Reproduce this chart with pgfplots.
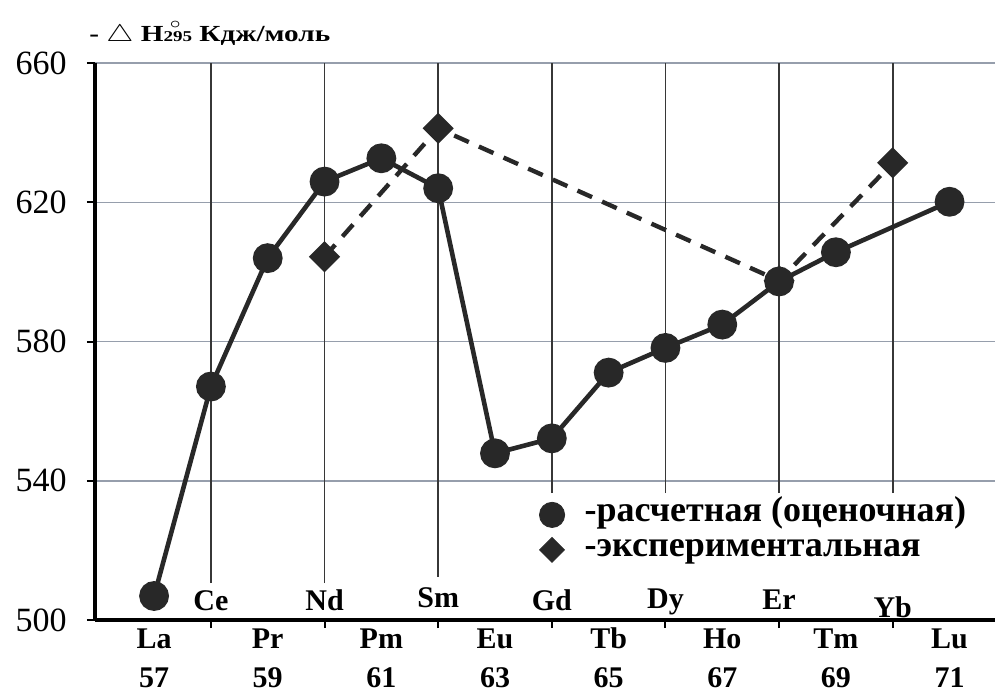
\documentclass[border=0pt]{standalone}
\usepackage{fontspec}
\setmainfont{Liberation Serif}
\usepackage{graphicx}
\usepackage{pgfplots}
\pgfplotsset{compat=1.18}
\definecolor{dk}{RGB}{40,40,40}
\definecolor{gridc}{RGB}{150,158,172}
\definecolor{vline}{RGB}{55,55,55}
\newcommand{\st}{\rule{0pt}{11pt}}
\begin{document}
\begin{tikzpicture}
\begin{axis}[
  name=ax,
  scale only axis,
  width=450pt, height=278.35pt,
  xmin=55.96, xmax=71.8,
  ymin=500, ymax=660,
  clip=false,
  axis x line=bottom, axis y line=left,
  axis line style={-, line width=1.6pt, black},
  tick align=outside,
  major tick length=4pt,
  tick style={line width=1pt, black},
  ytick={500,540,580,620,660},
  ymajorgrids,
  major grid style={color=gridc, line width=0.8pt},
  /pgf/number format/assume math mode=true,
  yticklabel style={font=\fontsize{17}{17}\selectfont, inner sep=0pt, xshift=-10pt},
  xtick={58,60,62,64,66,68,70},
  xticklabels={},
  extra x ticks={57,59,61,63,65,67,69,71},
  extra x tick labels={{\st La\\57},{\st Pr\\59},{\st Pm\\61},{\st Eu\\63},{\st Tb\\65},{\st Ho\\67},{\st Tm\\69},{\st Lu\\71}},
  extra x tick style={major tick length=0pt, grid=none,
     xticklabel style={font=\bfseries\fontsize{15}{19.5}\selectfont, align=center, inner sep=0pt, yshift=-3pt}},
  legend style={draw=none, fill=none, font=\bfseries\fontsize{18}{18}\selectfont,
     at={(axis cs:63.67,536.5)}, anchor=north west, column sep=9pt,
     nodes={inner sep=1pt, text height=11pt, text depth=4.5pt}},
  legend cell align=left,
]
% vertical grid lines
\draw[vline, line width=0.9pt] (axis cs:58,510.6) -- (axis cs:58,660);
\draw[vline, line width=0.9pt] (axis cs:60,510.6) -- (axis cs:60,660);
\draw[vline, line width=0.9pt] (axis cs:62,512.4) -- (axis cs:62,660);
\draw[vline, line width=0.9pt] (axis cs:64,536.5) -- (axis cs:64,660);
\draw[vline, line width=0.9pt] (axis cs:66,536.5) -- (axis cs:66,660);
\draw[vline, line width=0.9pt] (axis cs:68,536.5) -- (axis cs:68,660);
\draw[vline, line width=0.9pt] (axis cs:70,536.5) -- (axis cs:70,660);

% experimental (dashed, diamonds)
\addplot[forget plot, color=dk, line width=2.2pt, dash pattern=on 8pt off 5.5pt,
  mark=square*, mark size=4.4pt, mark options={rotate=45, solid, fill=dk}]
  coordinates {(60,604.4) (62,641.3) (68,597.5) (70,631.4)};
% calculated (solid, circles)
\addplot[forget plot, color=dk, line width=2.3pt,
  mark=*, mark size=6.3pt, mark options={fill=dk}]
  coordinates {(57,506.9) (58,567.1) (59,604.0) (60,626.0) (61,632.7) (62,624.1)
               (63,547.9) (64,552.2) (65,571.1) (66,578.2) (67,584.9) (68,597.3)
               (69,605.7) (71,620.2)};

\addlegendimage{only marks, mark=*, mark size=6.3pt, color=dk, fill=dk}
\addlegendentry{-расчетная (оценочная)}
\addlegendimage{only marks, mark=square*, mark options={rotate=45}, mark size=4.4pt, color=dk, fill=dk}
\addlegendentry{-экспериментальная}

% element labels above axis
\node[font=\bfseries\fontsize{15}{15}\selectfont, anchor=base] at (axis cs:58,502.6) {Ce};
\node[font=\bfseries\fontsize{15}{15}\selectfont, anchor=base] at (axis cs:60,502.6) {Nd};
\node[font=\bfseries\fontsize{15}{15}\selectfont, anchor=base] at (axis cs:62,503.7) {Sm};
\node[font=\bfseries\fontsize{15}{15}\selectfont, anchor=base] at (axis cs:64,502.6) {Gd};
\node[font=\bfseries\fontsize{15}{15}\selectfont, anchor=base] at (axis cs:66,503.4) {Dy};
\node[font=\bfseries\fontsize{15}{15}\selectfont, anchor=base] at (axis cs:68,502.9) {Er};
\node[font=\bfseries\fontsize{15}{15}\selectfont, anchor=base] at (axis cs:70,500.6) {Yb};
\end{axis}
\node[anchor=base west, inner sep=0pt, font=\bfseries\fontsize{11.5}{11.5}\selectfont]
  at ([shift={(-3pt,10.8pt)}]ax.north west)
  {\scalebox{1.27}[1]{- $\bigtriangleup$ H\rlap{\hspace{0.22em}\raisebox{1.25ex}{$\scriptstyle\circ$}}{\fontsize{7.5}{7.5}\selectfont 295} Кдж/моль}};
\pgfresetboundingbox
\path[use as bounding box] ([shift={(-47.5pt,-35.5pt)}]ax.south west) rectangle ++(497.5pt,345.5pt);
\end{tikzpicture}
\end{document}
